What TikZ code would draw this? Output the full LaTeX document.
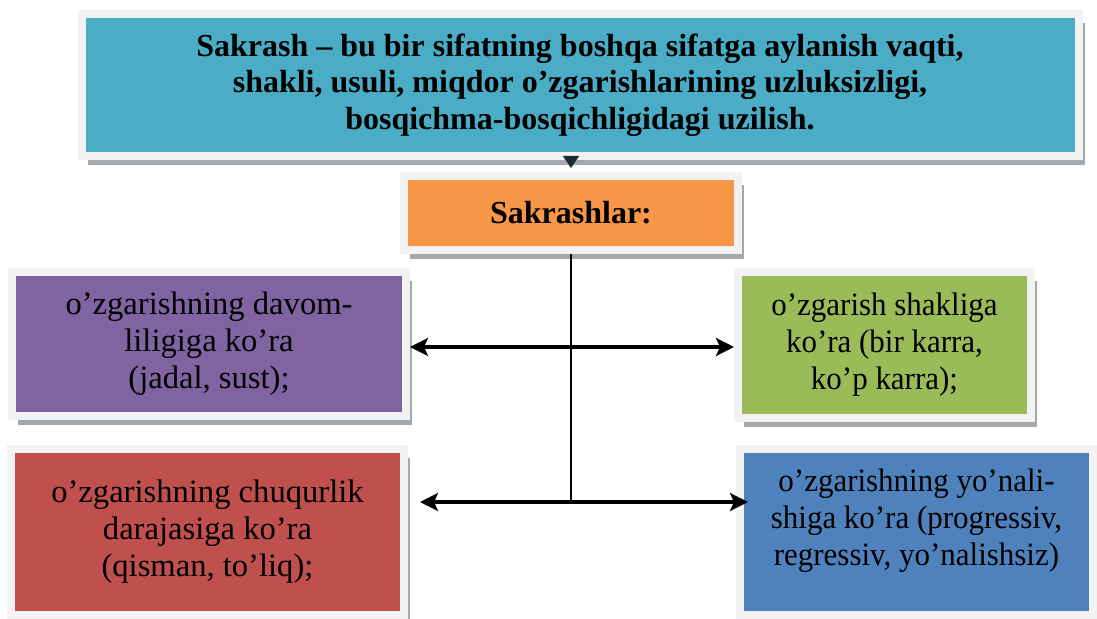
\documentclass[tikz,border=0pt]{standalone}
\usepackage{fontspec}
\setmainfont{Liberation Serif}
\newfontfamily\narrowserif[FakeStretch=0.95]{Liberation Serif}
\usetikzlibrary{arrows.meta,positioning,shadows}

\definecolor{boxteal}{HTML}{4BACC6}
\definecolor{boxorange}{HTML}{F79646}
\definecolor{boxpurple}{HTML}{8064A2}
\definecolor{boxgreen}{HTML}{9BBB59}
\definecolor{boxred}{HTML}{C0504D}
\definecolor{boxblue}{HTML}{4F81BD}
\definecolor{framegray}{HTML}{F2F2F2}
\definecolor{shadowgray}{HTML}{A3A9AD}
\definecolor{tipdark}{HTML}{1B2A30}
\newcommand{\boxfont}{\fontsize{16.3}{18.5}\selectfont}
\newcommand{\headfont}{\fontsize{16}{18.2}\selectfont\bfseries}

\begin{document}
\begin{tikzpicture}[
  x=0.5pt, y=-0.5pt, >={Stealth[length=9pt,width=9pt,inset=2pt]},
  box/.style={draw=framegray, line width=4pt, align=center, inner sep=0pt,
    font=\boxfont,
    drop shadow={shadow xshift=3pt, shadow yshift=-4.5pt, fill=shadowgray, opacity=1}},
  link/.style={line width=1.6pt, <->},
]
\useasboundingbox (0,0) rectangle (1097,619);

\node[box, fill=boxteal, minimum width=498.5pt, minimum height=71pt, font=\headfont]
  (def) at (580,85) {Sakrash – bu bir sifatning boshqa sifatga aylanish vaqti,\\
  shakli, usuli, miqdor o’zgarishlarining uzluksizligi,\\
  bosqichma-bosqichligidagi uzilish.};
\node[box, fill=boxorange, minimum width=167pt, minimum height=37pt, font=\headfont]
  (kinds) at (571,213) {Sakrashlar:};

\node[box, fill=boxpurple, minimum width=197pt, minimum height=72pt]
  (length) at (209,344) {o’zgarishning davom-\\liligiga ko’ra\\(jadal, sust);};
\node[box, fill=boxgreen, minimum width=146.5pt, minimum height=73pt, font=\boxfont\narrowserif]
  (form) at (884.5,345) {o’zgarish shakliga\\ko’ra (bir karra,\\ko’p karra);};
\node[box, fill=boxred, minimum width=196.5pt, minimum height=83pt]
  (depth) at (207.5,532) {o’zgarishning chuqurlik\\darajasiga ko’ra\\(qisman, to’liq);};
\node[box, fill=boxblue, minimum width=176.5pt, minimum height=83pt, font=\boxfont\narrowserif]
  (dir) at (916.5,532) {o’zgarishning yo’nali-\\shiga ko’ra (progressiv,\\regressiv, yo’nalishsiz)\\[-4pt]\mbox{}};

\coordinate (jup) at (571,347);
\coordinate (jlow) at (571,502);

% connectors
\draw[-{Triangle[length=6pt,width=8pt]}, draw=tipdark, fill=tipdark, line width=0.6pt,
  shorten <=2pt, shorten >=2pt] (kinds.north |- def.south) -- (kinds.north);
\draw[line width=0.9pt] (kinds.south) -- (jlow);
\draw[link] (length.east |- jup) -- (form.west |- jup);
\draw[link] ([xshift=6pt]depth.east |- jlow) -- ([xshift=6pt]dir.west |- jlow);
\end{tikzpicture}
\end{document}
